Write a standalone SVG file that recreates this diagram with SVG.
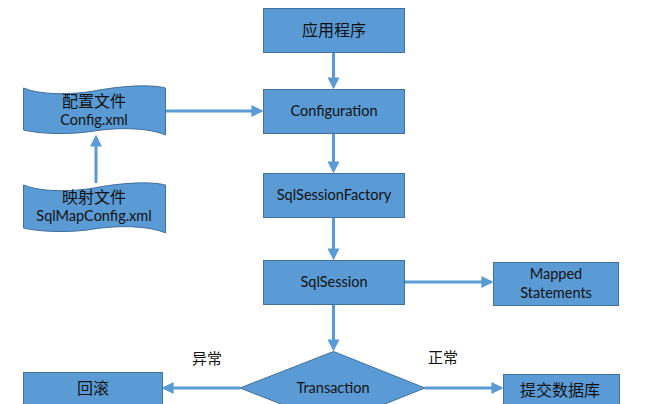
<svg xmlns="http://www.w3.org/2000/svg" width="664" height="404" viewBox="0 0 664 404">
<defs>
<marker id="ah" markerWidth="4" markerHeight="4" refX="3.2" refY="2" orient="auto" markerUnits="strokeWidth">
<path d="M0,0 L4,2 L0,4 Z" fill="#5b9bd5"/>
</marker>
<style>
.box{fill:#5b9bd5;stroke:#41719c;stroke-width:1}
.t{font-family:Lato,"Open Sans","Noto Sans CJK SC",sans-serif;font-size:14.5px;fill:#111;text-anchor:middle}
.cn{font-family:"Noto Sans CJK SC",sans-serif;font-size:16px;fill:#111;text-anchor:middle}
.lbl{font-family:"Noto Sans CJK SC",sans-serif;font-size:15px;fill:#111;text-anchor:middle}
.c{stroke:#5b9bd5;stroke-width:3;fill:none;marker-end:url(#ah)}
</style>
</defs>
<rect width="664" height="404" fill="#fff"/>
<g id="connectors">
<line class="c" x1="333.5" y1="52" x2="333.5" y2="87"/>
<line class="c" x1="333.5" y1="133" x2="333.5" y2="171"/>
<line class="c" x1="333.5" y1="217" x2="333.5" y2="258"/>
<line class="c" x1="333.5" y1="304" x2="333.5" y2="349"/>
<line class="c" x1="166" y1="111" x2="261" y2="111"/>
<line class="c" x1="96" y1="183" x2="96" y2="137"/>
<line class="c" x1="404" y1="282" x2="491" y2="282"/>
<line class="c" x1="425" y1="388" x2="501" y2="388"/>
<line class="c" x1="240" y1="388" x2="164" y2="388"/>
</g>
<g id="app"><rect class="box" x="263.5" y="8.5" width="141" height="44"/><text class="cn" x="334" y="36">应用程序</text></g>
<g id="configuration"><rect class="box" x="263.5" y="89.5" width="141" height="44"/><text class="t" x="334" y="116">Configuration</text></g>
<g id="factory"><rect class="box" x="263.5" y="173.5" width="141" height="44"/><text class="t" x="334" y="200">SqlSessionFactory</text></g>
<g id="session"><rect class="box" x="263.5" y="260.5" width="141" height="44"/><text class="t" x="334" y="287">SqlSession</text></g>
<g id="mapped"><rect class="box" x="493.5" y="262.5" width="125" height="43"/><text class="t" x="556" y="279">Mapped</text><text class="t" x="556" y="298">Statements</text></g>
<g id="config-xml"><path class="box" d="M23.5,88 C40,95 70,95 94,91 C120,86 150,84 165.5,88 L165.5,135 C150,128 120,127 94,131 C70,135 40,134 23.5,130 Z"/><text class="cn" x="94" y="107">配置文件</text><text class="t" x="94" y="125">Config.xml</text></g>
<g id="sqlmap-xml"><path class="box" d="M23.5,185 C40,192 70,192 94,188 C120,183 150,181 165.5,185 L165.5,233 C150,226 120,225 94,229 C70,233 40,232 23.5,228 Z"/><text class="cn" x="94" y="203">映射文件</text><text class="t" x="94" y="221">SqlMapConfig.xml</text></g>
<g id="transaction"><path class="box" d="M333.5,351.5 L425,388 L333.5,424.5 L240,388 Z"/><text class="t" x="333" y="393">Transaction</text></g>
<g id="commit"><rect class="box" x="503.5" y="374.5" width="116" height="40"/><text class="cn" x="560" y="396">提交数据库</text></g>
<g id="rollback"><rect class="box" x="23.5" y="372.5" width="139" height="40"/><text class="cn" x="93" y="394">回滚</text></g>
<text class="lbl" x="207" y="364">异常</text>
<text class="lbl" x="443" y="363">正常</text>
</svg>
